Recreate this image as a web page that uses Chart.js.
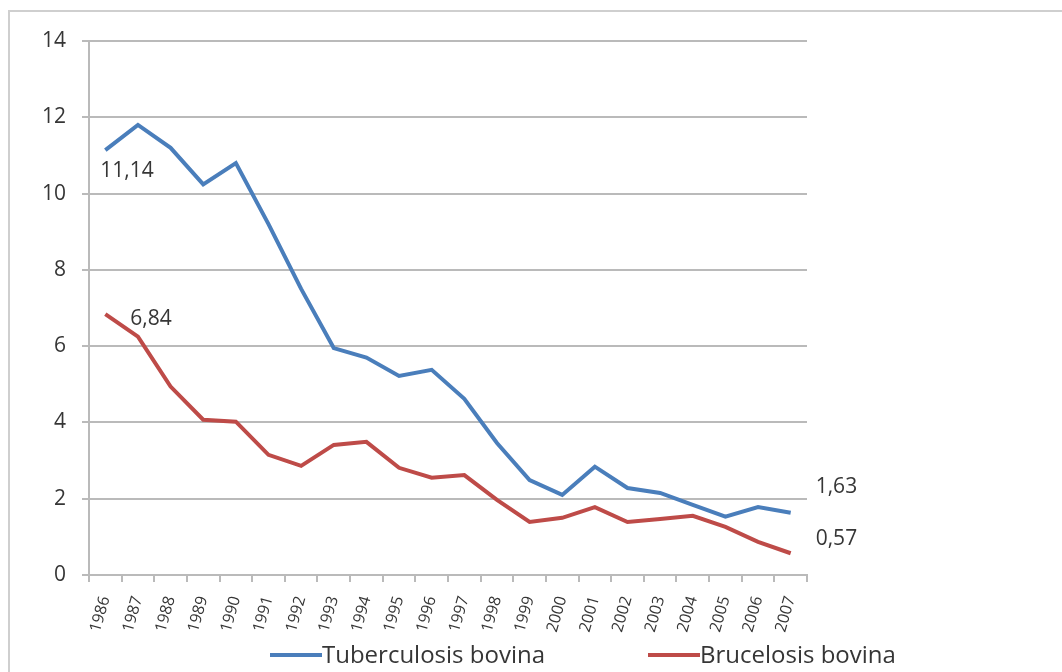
<!DOCTYPE html>
<html>
<head>
<meta charset="utf-8">
<script src="https://cdn.jsdelivr.net/npm/chart.js@4/dist/chart.umd.min.js"></script>
<style>
  html, body { margin: 0; padding: 0; background: #fff; overflow: hidden; }
  #wrap { position: relative; width: 1062px; height: 672px; }
  #frame { position: absolute; left: 8px; top: 10px; width: 1100px; height: 700px;
           border: 2px solid #cfcfcf; box-sizing: border-box; }
  canvas { position: absolute; left: 0; top: 0; }
</style>
</head>
<body>
<div id="wrap">
  <div id="frame"></div>
  <canvas id="ch" width="1062" height="672"></canvas>
</div>
<script>
// Tuberculosis / brucelosis bovina, 1986-2007
const years = ['1986','1987','1988','1989','1990','1991','1992','1993','1994','1995','1996',
               '1997','1998','1999','2000','2001','2002','2003','2004','2005','2006','2007'];
const tuberculosis = [11.14, 11.8, 11.2, 10.24, 10.8, 9.2, 7.5, 5.95, 5.7, 5.22, 5.38,
                      4.62, 3.46, 2.49, 2.1, 2.84, 2.28, 2.15, 1.84, 1.53, 1.78, 1.63];
const brucelosis = [6.84, 6.25, 4.94, 4.07, 4.02, 3.15, 2.86, 3.41, 3.49, 2.81, 2.55,
                    2.62, 1.97, 1.39, 1.5, 1.78, 1.39, 1.47, 1.55, 1.26, 0.87, 0.57];
const yTicks = [0, 2, 4, 6, 8, 10, 12, 14];
const seriesNames = ['Tuberculosis bovina', 'Brucelosis bovina'];

// point labels: dataset, index, text, offset from the point
const pointLabels = [
  { ds: 0, i: 0,  text: '11,14', dx: -5, dy: 21 },
  { ds: 1, i: 0,  text: '6,84',  dx: 25, dy: 5 },
  { ds: 0, i: 21, text: '1,63',  dx: 25, dy: -26 },
  { ds: 1, i: 21, text: '0,57',  dx: 25, dy: -14 },
];

const BLUE = '#4a7ebb', RED = '#be4b48', TXT = '#363636', GRID = '#bababa';
const FONT = '"Open Sans", "Liberation Sans", sans-serif';

const extras = {
  id: 'extras',
  afterDatasetsDraw(chart) {
    const ctx = chart.ctx;
    ctx.save();
    ctx.fillStyle = TXT;
    ctx.font = '21px ' + FONT;
    ctx.textAlign = 'left';
    ctx.textBaseline = 'middle';
    pointLabels.forEach(l => {
      const p = chart.getDatasetMeta(l.ds).data[l.i];
      ctx.fillText(l.text, p.x + l.dx, p.y + l.dy);
    });
    // legend along the bottom, overlapping the rotated year labels like the original
    const items = [{ x: 270, c: BLUE }, { x: 648, c: RED }];
    const y = 655;
    items.forEach((it, k) => {
      ctx.strokeStyle = it.c;
      ctx.lineWidth = 4;
      ctx.beginPath();
      ctx.moveTo(it.x, y);
      ctx.lineTo(it.x + 52, y);
      ctx.stroke();
      ctx.fillStyle = TXT;
      ctx.font = '24px ' + FONT;
      ctx.fillText(seriesNames[k], it.x + 52, y + 1);
    });
    ctx.restore();
  }
};

new Chart(document.getElementById('ch'), {
  type: 'line',
  data: {
    labels: years,
    datasets: [
      { label: seriesNames[0], data: tuberculosis, borderColor: BLUE, backgroundColor: BLUE,
        borderWidth: 4, pointRadius: 0, tension: 0 },
      { label: seriesNames[1], data: brucelosis, borderColor: RED, backgroundColor: RED,
        borderWidth: 4, pointRadius: 0, tension: 0 },
    ],
  },
  options: {
    responsive: false,
    animation: false,
    layout: { padding: { left: 0, right: 255, top: 41, bottom: 0 } },
    plugins: { legend: { display: false }, tooltip: { enabled: false } },
    scales: {
      x: {
        offset: true,
        grid: { display: true, drawOnChartArea: false, drawTicks: true, tickLength: 7,
                offset: true, color: GRID, lineWidth: 2 },
        border: { color: GRID, width: 2 },
        ticks: { color: TXT, font: { family: FONT, size: 16 }, minRotation: 74,
                 maxRotation: 74, autoSkip: false, padding: 12 },
        afterFit(s) { s.height = 97; },
      },
      y: {
        min: 0, max: 14,
        afterBuildTicks(s) { s.ticks = yTicks.map(v => ({ value: v })); },
        grid: { color: GRID, lineWidth: 2, tickLength: 7 },
        border: { color: GRID, width: 2 },
        ticks: { color: TXT, font: { family: FONT, size: 21 }, padding: 16 },
        afterFit(s) { s.width = 89; },
      },
    },
  },
  plugins: [extras],
});
</script>
</body>
</html>
